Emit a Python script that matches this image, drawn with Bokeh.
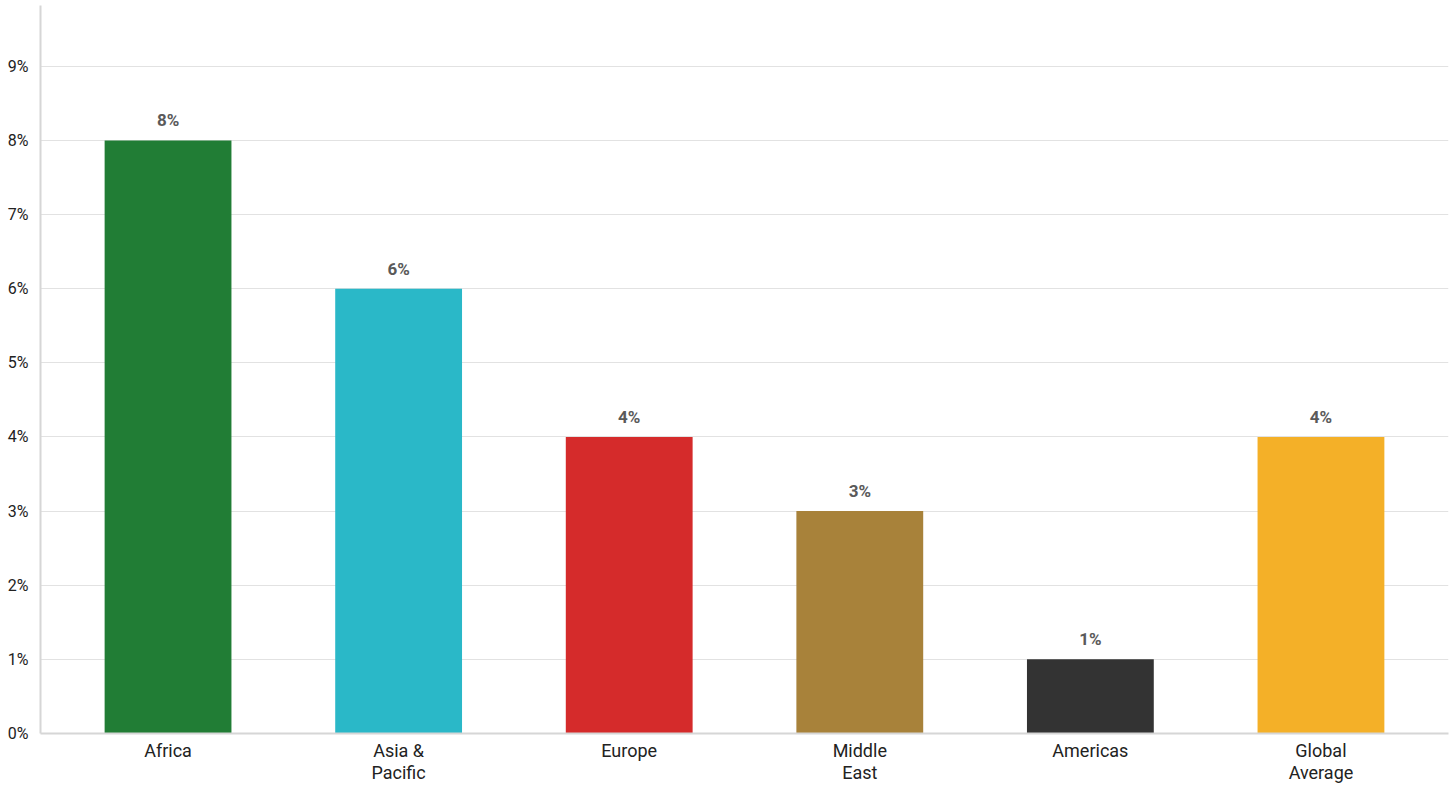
from bokeh.plotting import figure
from bokeh.models import ColumnDataSource, FactorRange, Range1d, FixedTicker, LabelSet
from bokeh.core.properties import value
from bokeh.embed import file_html
from bokeh.resources import INLINE

regions = ["Africa", "Asia &\nPacific", "Europe", "Middle\nEast", "Americas", "Global\nAverage"]
values = [8, 6, 4, 3, 1, 4]
colors = ["#217d35", "#2ab8c8", "#d52b2b", "#a8823a", "#333333", "#f4b028"]
labels = [f"{v}%" for v in values]
yticks = list(range(0, 10))

src = ColumnDataSource(dict(x=regions, top=values, color=colors, label=labels))

p = figure(x_range=FactorRange(*regions, range_padding=0.0177, range_padding_units="percent"),
           y_range=Range1d(0, 9.82),
           width=1450, height=785, output_backend="svg", toolbar_location=None,
           min_border_left=40, min_border_right=2, min_border_top=5, min_border_bottom=0)
p.outline_line_color = None
p.background_fill_color = "white"

p.vbar(x="x", top="top", width=0.55, color="color", source=src, line_color=None)

p.add_layout(LabelSet(x="x", y="top", text="label", source=src, text_align="center",
                      text_baseline="bottom", y_offset=10, text_font=value("Roboto"),
                      text_font_style="bold", text_font_size="17px", text_color="#5a5a5a"))

p.yaxis.ticker = FixedTicker(ticks=yticks)
p.yaxis.major_label_overrides = {v: f"{v}%" for v in yticks}
for ax in (p.xaxis, p.yaxis):
    ax.axis_line_color = "#d6d6d6"
    ax.axis_line_width = 2
    ax.major_tick_line_color = None
    ax.minor_tick_line_color = None
    ax.major_label_text_font = "Roboto"
    ax.major_label_text_color = "#222222"
p.yaxis.major_label_text_font_size = "16px"
p.xaxis.major_label_text_font_size = "18px"
p.yaxis.major_label_standoff = 6
p.xaxis.major_label_standoff = 0
p.xaxis.major_label_text_line_height = 1.05
p.xgrid.grid_line_color = None
p.ygrid.grid_line_color = "#e2e2e2"
p.ygrid.grid_line_width = 1
p.ygrid.ticker = FixedTicker(ticks=yticks)

open("out.html", "w").write(file_html(p, INLINE))
